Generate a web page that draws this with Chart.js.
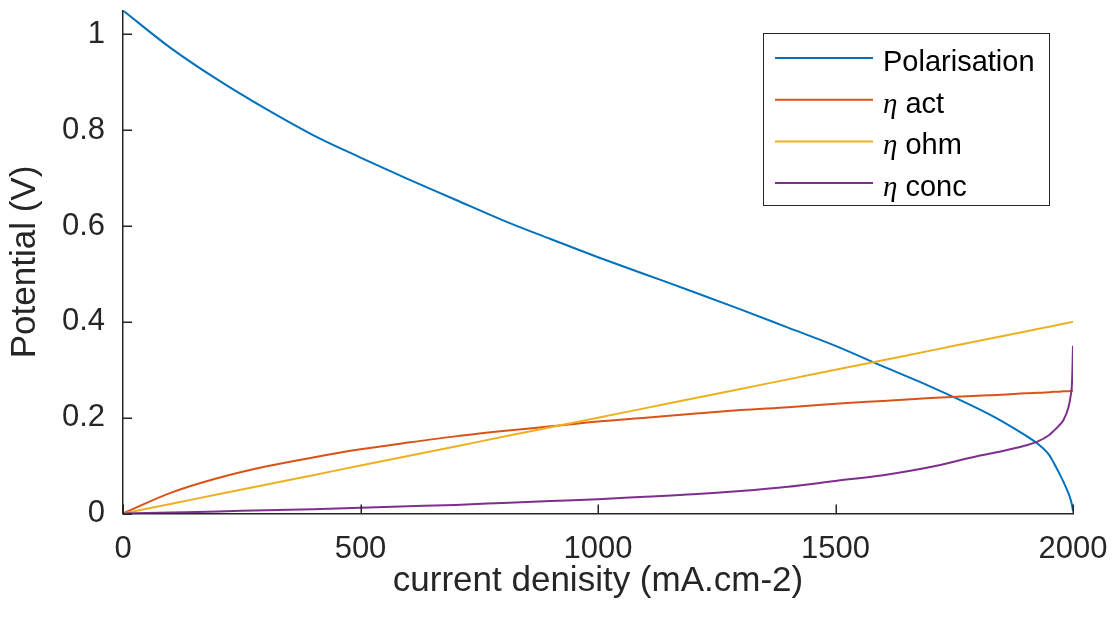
<!DOCTYPE html>
<html>
<head>
<meta charset="utf-8">
<title>Polarisation curve</title>
<script src="https://cdn.jsdelivr.net/npm/chart.js@4.4.1/dist/chart.umd.min.js"></script>
<style>
    html, body { margin: 0; padding: 0; background: #fff; }
    #wrap { width: 1117px; height: 621px; }
</style>
</head>
<body>
<div id="wrap"><canvas id="polChart" width="1117" height="621"></canvas></div>
<script>
// Data
const currentDensity = [0, 100, 200, 300, 400, 500, 600, 700, 800, 900, 1000, 1100, 1200, 1300, 1400,
    1500, 1600, 1700, 1800, 1850, 1900, 1925, 1950, 1960, 1970, 1980, 1990, 1995, 1998, 2000];
const polarisation = [1.05, 0.972, 0.905, 0.845, 0.790, 0.743, 0.698, 0.655, 0.612, 0.573, 0.535, 0.499, 0.463, 0.426, 0.388,
    0.350, 0.307, 0.265, 0.219, 0.193, 0.163, 0.146, 0.122, 0.105, 0.086, 0.066, 0.043, 0.029, 0.017, 0.005];
const etaAct = [0, 0.043, 0.074, 0.098, 0.117, 0.134, 0.148, 0.161, 0.172, 0.182, 0.192, 0.200, 0.208, 0.216, 0.222,
    0.229, 0.235, 0.241, 0.246, 0.248, 0.251, 0.252, 0.253, 0.254, 0.254, 0.255, 0.255, 0.256, 0.256, 0.256];
const etaOhm = [0, 0.02, 0.04, 0.06, 0.08, 0.10, 0.12, 0.14, 0.16, 0.18, 0.20, 0.22, 0.24, 0.26, 0.28,
    0.30, 0.32, 0.34, 0.36, 0.37, 0.38, 0.385, 0.39, 0.392, 0.394, 0.396, 0.398, 0.399, 0.3996, 0.40];
const etaConc = [0, 0.002, 0.004, 0.007, 0.009, 0.012, 0.015, 0.018, 0.022, 0.026, 0.030, 0.035, 0.040, 0.047, 0.056,
    0.068, 0.080, 0.097, 0.120, 0.130, 0.142, 0.150, 0.164, 0.173, 0.183, 0.195, 0.220, 0.245, 0.275, 0.350];

const xTickValues = [0, 500, 1000, 1500, 2000];
const yTickValues = [0, 0.2, 0.4, 0.6, 0.8, 1];

const seriesNames = ['Polarisation', 'act', 'ohm', 'conc'];
const seriesColors = ['#0072BD', '#D95319', '#EDB120', '#7E2F8E'];

const axisColor = '#262626';
const sansFont = "'Liberation Sans', Arial, Helvetica, sans-serif";

Chart.defaults.font.family = sansFont;

function toPoints(ys) {
    return currentDensity.map((x, i) => ({ x: x, y: ys[i] }));
}

// MATLAB style inward ticks + legend box
const matlabStyle = {
    id: 'matlabStyle',
    afterDatasetsDraw(chart) {
        const { ctx, chartArea: area, scales: { x, y } } = chart;
        const tickLen = 9;
        ctx.save();
        ctx.strokeStyle = axisColor;
        ctx.lineWidth = 1.5;
        ctx.beginPath();
        xTickValues.forEach(v => {
            const px = Math.round(x.getPixelForValue(v)) + 0.25;
            ctx.moveTo(px, area.bottom);
            ctx.lineTo(px, area.bottom - tickLen);
        });
        yTickValues.forEach(v => {
            const py = Math.round(y.getPixelForValue(v)) + 0.25;
            ctx.moveTo(area.left, py);
            ctx.lineTo(area.left + tickLen, py);
        });
        ctx.stroke();

        // legend
        const box = { x: 763, y: 33, w: 286, h: 172 };
        ctx.fillStyle = '#fff';
        ctx.fillRect(box.x, box.y, box.w, box.h);
        ctx.lineWidth = 1;
        ctx.strokeStyle = axisColor;
        ctx.strokeRect(box.x + 0.5, box.y + 0.5, box.w, box.h);

        chart.data.datasets.forEach((ds, i) => {
            const rowY = 58 + i * 41.7;
            ctx.strokeStyle = ds.borderColor;
            ctx.lineWidth = 2;
            ctx.beginPath();
            ctx.moveTo(775, rowY);
            ctx.lineTo(873, rowY);
            ctx.stroke();

            ctx.fillStyle = '#000';
            ctx.textBaseline = 'alphabetic';
            ctx.textAlign = 'left';
            let tx = 883;
            if (i > 0) {
                ctx.font = "italic 29px 'Liberation Serif', 'DejaVu Serif', serif";
                ctx.fillText('\u03B7', tx, rowY + 13);
                tx += ctx.measureText('\u03B7').width;
                ctx.font = '29px ' + sansFont;
                tx += ctx.measureText(' ').width;
            } else {
                ctx.font = '29px ' + sansFont;
            }
            ctx.fillText(seriesNames[i], tx, rowY + 13);
        });
        ctx.restore();
    }
};

const ctx = document.getElementById('polChart').getContext('2d');
const chart = new Chart(ctx, {
    type: 'line',
    data: {
        datasets: [polarisation, etaAct, etaOhm, etaConc].map((ys, i) => ({
            label: seriesNames[i],
            data: toPoints(ys),
            borderColor: seriesColors[i],
            borderWidth: 2,
            pointRadius: 0,
            cubicInterpolationMode: 'monotone',
            fill: false,
            order: 3 - i
        }))
    },
    options: {
        responsive: false,
        animation: false,
        devicePixelRatio: 1,
        layout: { padding: { top: 10.5, right: 44, left: 0, bottom: 0 } },
        plugins: {
            legend: { display: false },
            tooltip: { enabled: false }
        },
        scales: {
            x: {
                type: 'linear',
                min: 0,
                max: 2000,
                afterBuildTicks: s => { s.ticks = xTickValues.map(v => ({ value: v })); },
                afterFit: s => { s.height = 107.5; s.paddingLeft = 0; s.paddingRight = 0; },
                grid: { display: false, drawTicks: false },
                border: { display: true, color: axisColor, width: 1.5 },
                ticks: {
                    color: axisColor,
                    font: { size: 31 },
                    padding: 17,
                    maxRotation: 0,
                    autoSkip: false,
                    callback: v => String(v)
                },
                title: {
                    display: true,
                    text: 'current denisity (mA.cm-2)',
                    color: axisColor,
                    font: { size: 35 },
                    padding: { top: 0, bottom: 19 }
                }
            },
            y: {
                type: 'linear',
                min: 0,
                max: 1.05,
                afterBuildTicks: s => { s.ticks = yTickValues.map(v => ({ value: v })); },
                afterFit: s => { s.width = 123; s.paddingTop = 0; s.paddingBottom = 0; },
                grid: { display: false, drawTicks: false },
                border: { display: true, color: axisColor, width: 1.5 },
                ticks: {
                    color: axisColor,
                    font: { size: 31 },
                    padding: 18,
                    callback: v => String(+v.toFixed(2))
                },
                title: {
                    display: true,
                    text: 'Potential (V)',
                    color: axisColor,
                    font: { size: 35 },
                    padding: { top: 4, bottom: 0 }
                }
            }
        }
    },
    plugins: [matlabStyle]
});
</script>
</body>
</html>
